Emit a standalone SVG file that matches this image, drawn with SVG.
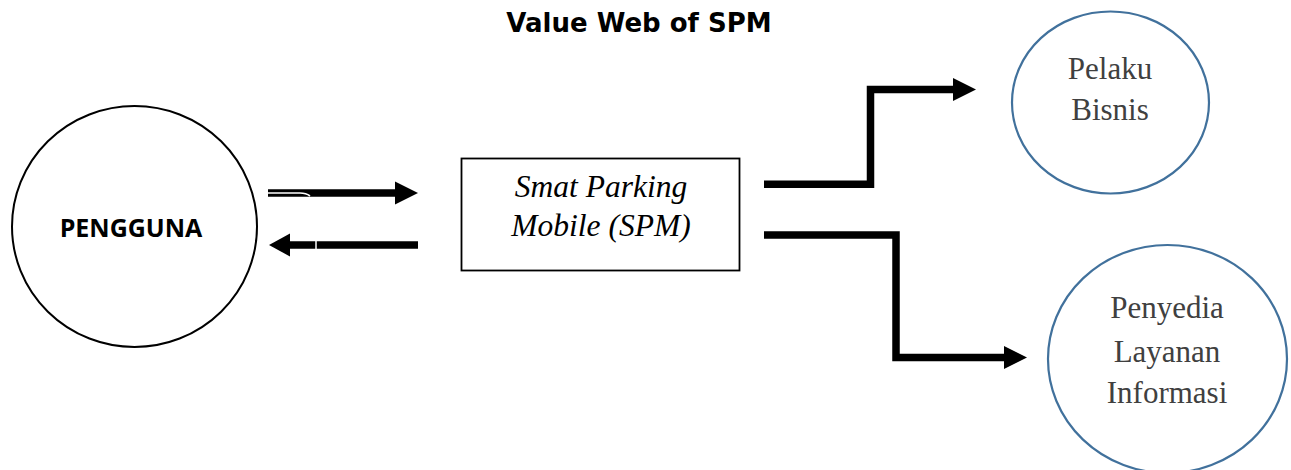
<svg xmlns="http://www.w3.org/2000/svg" width="1291" height="470" viewBox="0 0 1291 470">
<style>
.bg{fill:#fff}
.title{font-family:"DejaVu Sans",sans-serif;font-weight:bold;font-size:26px;fill:#000}
.pengguna{font-family:"Open Sans","Liberation Sans",sans-serif;font-weight:bold;font-size:25px;fill:#000}
.spm{font-family:"Liberation Serif",serif;font-style:italic;font-size:31.5px;fill:#000}
.ent{font-family:"Liberation Serif",serif;font-size:31px;fill:#404040}
.blue{fill:#fff;stroke:#41719c;stroke-width:2.2}
.conn{fill:none;stroke:#000;stroke-width:7.5}
.head{fill:#000}
</style>
<rect class="bg" x="0" y="0" width="1291" height="470"/>
<text class="title" x="639" y="32" text-anchor="middle">Value Web of SPM</text>
<g id="pengguna">
<ellipse cx="134.5" cy="226.5" rx="122.5" ry="120.5" fill="#fff" stroke="#000" stroke-width="2"/>
<text class="pengguna" x="131" y="236.5" text-anchor="middle">PENGGUNA</text>
</g>
<g id="spm">
<rect x="461.5" y="158.5" width="278" height="112" fill="#fff" stroke="#000" stroke-width="1.8"/>
<text class="spm" x="601" y="197" text-anchor="middle">Smat Parking</text>
<text class="spm" x="601" y="236" text-anchor="middle">Mobile (SPM)</text>
</g>
<g id="pelaku">
<ellipse class="blue" cx="1110.5" cy="102.5" rx="98.5" ry="91"/>
<text class="ent" x="1110" y="79" text-anchor="middle">Pelaku</text>
<text class="ent" x="1110" y="120" text-anchor="middle">Bisnis</text>
</g>
<g id="penyedia">
<ellipse class="blue" cx="1167.5" cy="359" rx="119.5" ry="114"/>
<text class="ent" x="1167" y="318" text-anchor="middle">Penyedia</text>
<text class="ent" x="1167" y="362" text-anchor="middle">Layanan</text>
<text class="ent" x="1167" y="403" text-anchor="middle">Informasi</text>
</g>
<g id="connectors">
<line class="conn" x1="268" y1="193" x2="397" y2="193"/>
<path d="M268 193 H300 Q306 193 310 196" fill="none" stroke="#fff" stroke-width="1.6"/>
<polygon class="head" points="395,181.5 418,193 395,204.5"/>
<line class="conn" x1="287" y1="245" x2="418" y2="245"/>
<line x1="316" y1="240" x2="316" y2="250" stroke="#fff" stroke-width="1.5"/>
<polygon class="head" points="290,233.5 269,245 290,256.5"/>
<polyline class="conn" points="764,184.3 870.5,184.3 870.5,89.5 955,89.5"/>
<polygon class="head" points="953,78 976,89.5 953,101"/>
<polyline class="conn" points="764,235 896,235 896,357.5 1006,357.5"/>
<polygon class="head" points="1004,346 1027,357.5 1004,369"/>
</g>
</svg>
